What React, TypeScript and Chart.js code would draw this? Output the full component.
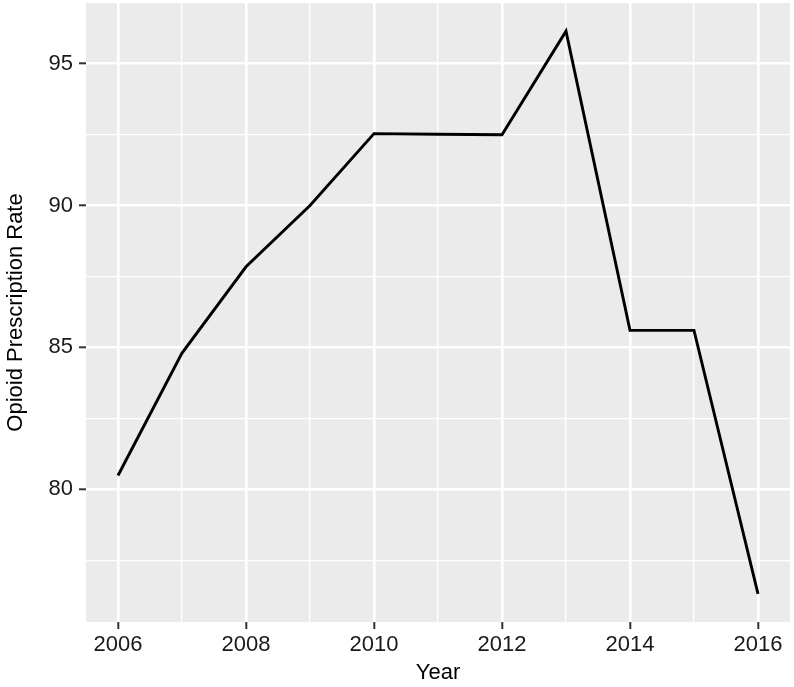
import React, { useEffect, useRef } from "react";
import { Chart, registerables } from "chart.js";

Chart.register(...registerables);

const years = [2006, 2007, 2008, 2009, 2010, 2011, 2012, 2013, 2014, 2015, 2016];
const rates = [80.49, 84.8, 87.84, 90.0, 92.53, 92.51, 92.49, 96.14, 85.6, 85.6, 76.32];
const xMajorTicks = [2006, 2008, 2010, 2012, 2014, 2016];
const xMinorTicks = [2007, 2009, 2011, 2013, 2015];
const yMajorTicks = [80, 85, 90, 95];
const yMinorTicks = [77.5, 82.5, 87.5, 92.5];

const FONT = "'Liberation Sans', Arial, Helvetica, sans-serif";

export default function App() {
  const ref = useRef<HTMLCanvasElement | null>(null);

  useEffect(() => {
    if (!ref.current) return;
    const yLo = Math.min(...rates);
    const yHi = Math.max(...rates);
    const yPad = (yHi - yLo) * 0.05;
    const xLo = Math.min(...years);
    const xHi = Math.max(...years);
    const xPad = (xHi - xLo) * 0.05;

    const bgPlugin = {
      id: "panelBg",
      beforeDraw(chart: any) {
        const { ctx, chartArea } = chart;
        ctx.save();
        ctx.fillStyle = "#EBEBEB";
        ctx.fillRect(chartArea.left, chartArea.top, chartArea.right - chartArea.left, chartArea.bottom - chartArea.top);
        ctx.restore();
      },
    };

    const chart = new Chart(ref.current, {
      type: "line",
      data: {
        datasets: [
          {
            data: years.map((y, i) => ({ x: y, y: rates[i] })),
            borderColor: "#000000",
            borderWidth: 2.9,
            pointRadius: 0,
            tension: 0,
            fill: false,
          },
        ],
      },
      options: {
        responsive: false,
        animation: false,
        layout: { padding: { top: 3, right: 4, left: 0, bottom: 0 } },
        plugins: { legend: { display: false }, tooltip: { enabled: false } },
        scales: {
          x: {
            type: "linear",
            min: xLo - xPad,
            max: xHi + xPad,
            afterBuildTicks: (scale: any) => {
              scale.ticks = [...xMajorTicks, ...xMinorTicks]
                .sort((a, b) => a - b)
                .map((v) => ({ value: v }));
            },
            afterFit: (scale: any) => {
              scale.height = 65;
              scale.paddingLeft = 0;
              scale.paddingRight = 0;
            },
            ticks: {
              autoSkip: false,
              maxRotation: 0,
              padding: 3,
              color: "#1A1A1A",
              font: { family: FONT, size: 22 },
              callback: (v: any) => (xMajorTicks.includes(Number(v)) ? String(v) : ""),
            },
            grid: {
              color: "#FFFFFF",
              lineWidth: (ctx: any) => (xMajorTicks.includes(ctx.tick?.value) ? 2.6 : 1.3),
              tickColor: (ctx: any) => (xMajorTicks.includes(ctx.tick?.value) ? "#333333" : "rgba(0,0,0,0)"),
              tickWidth: 2,
              tickLength: 7,
            },
            border: { display: false },
            title: {
              display: true,
              text: "Year",
              color: "#000000",
              font: { family: FONT, size: 22 },
              padding: { top: 0, bottom: 1 },
            },
          },
          y: {
            type: "linear",
            min: yLo - yPad,
            max: yHi + yPad,
            afterBuildTicks: (scale: any) => {
              scale.ticks = [...yMajorTicks, ...yMinorTicks]
                .sort((a, b) => a - b)
                .map((v) => ({ value: v }));
            },
            afterFit: (scale: any) => {
              scale.width = 86;
              scale.paddingTop = 0;
              scale.paddingBottom = 0;
            },
            ticks: {
              autoSkip: false,
              padding: 6,
              color: "#1A1A1A",
              font: { family: FONT, size: 22 },
              callback: (v: any) => (yMajorTicks.includes(Number(v)) ? String(v) : ""),
            },
            grid: {
              color: "#FFFFFF",
              lineWidth: (ctx: any) => (yMajorTicks.includes(ctx.tick?.value) ? 2.6 : 1.3),
              tickColor: (ctx: any) => (yMajorTicks.includes(ctx.tick?.value) ? "#333333" : "rgba(0,0,0,0)"),
              tickWidth: 2,
              tickLength: 7,
            },
            border: { display: false },
            title: {
              display: true,
              text: "Opioid Prescription Rate",
              color: "#000000",
              font: { family: FONT, size: 22 },
              padding: { top: 3, bottom: 0 },
            },
          },
        },
      } as any,
      plugins: [bgPlugin],
    });
    return () => chart.destroy();
  }, []);

  return (
    <div style={{ position: "fixed", left: 0, top: 0, width: 794, height: 687, background: "#FFFFFF" }}>
      <canvas ref={ref} width={794} height={687} style={{ width: 794, height: 687, display: "block" }} />
    </div>
  );
}
